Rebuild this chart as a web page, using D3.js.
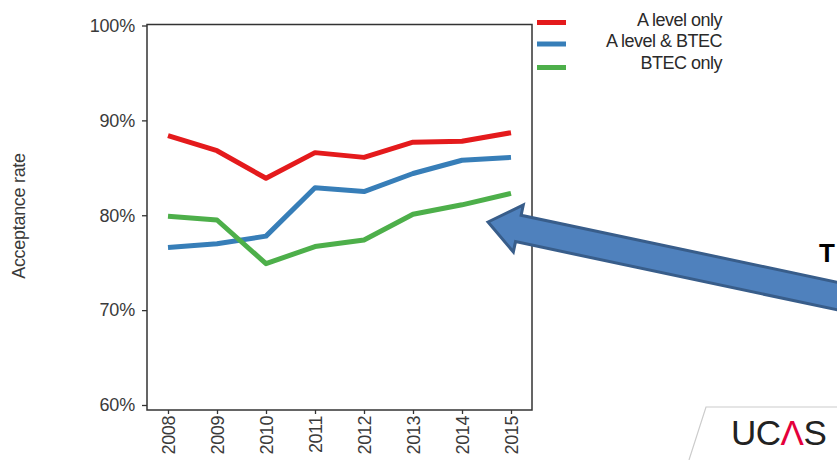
<!DOCTYPE html>
<html><head><meta charset="utf-8">
<script src="https://cdn.jsdelivr.net/npm/d3@7"></script>
<style>body{margin:0;background:#fff}svg{display:block;font-family:"Liberation Sans",Arial,sans-serif}</style>
</head><body><svg id="c" width="837" height="460"></svg>
<script>
const years = [2008, 2009, 2010, 2011, 2012, 2013, 2014, 2015];
const aLevelOnly = [88.4, 86.8, 83.9, 86.6, 86.1, 87.7, 87.8, 88.7];
const aLevelBtec = [76.6, 77.0, 77.8, 82.9, 82.5, 84.4, 85.8, 86.1];
const btecOnly   = [79.9, 79.5, 74.9, 76.7, 77.4, 80.1, 81.1, 82.3];
const seriesNames = ["A level only", "A level & BTEC", "BTEC only"];
const seriesColors = ["#e41a1c", "#377eb8", "#4daf4a"];
const yTicks = [60, 70, 80, 90, 100];

(function () {
const svg = d3.select("#c");
const x = d3.scaleLinear().domain([2008, 2015]).range([168, 511]);
const y = d3.scaleLinear().domain([60, 100]).range([405, 25.5]);
const pl = 147, pr = 532, pt = 24.5, pb = 410;
const ff = "Liberation Sans, Arial, sans-serif";

// frame
svg.append("rect").attr("x", pl).attr("y", pt).attr("width", pr-pl).attr("height", pb-pt)
  .attr("fill", "none").attr("stroke", "#333").attr("stroke-width", 1.5);

// y axis
const ya = svg.append("g").attr("transform", `translate(${pl},0)`)
  .call(d3.axisLeft(y).tickValues(yTicks).tickSize(5).tickFormat(d => d + "%"));
ya.select(".domain").remove();
ya.selectAll("line").attr("stroke", "#333").attr("stroke-width", 1.3);
ya.selectAll("text").attr("font-size", 18).attr("fill", "#3a3a3a").attr("x", -12)
  .attr("font-family", ff).style("letter-spacing", "-0.2px");

// x axis
const xa = svg.append("g").attr("transform", `translate(0,${pb})`)
  .call(d3.axisBottom(x).tickValues(years).tickSize(4).tickFormat(d3.format("d")));
xa.select(".domain").remove();
xa.selectAll("line").attr("stroke", "#333").attr("stroke-width", 1.3);
xa.selectAll("text").attr("font-size", 18).attr("fill", "#3a3a3a")
  .attr("font-family", ff).style("letter-spacing", "-0.4px")
  .attr("transform", "rotate(-90)").attr("text-anchor", "end")
  .attr("x", -6).attr("y", 0).attr("dy", "0.35em");

// y label
svg.append("text").attr("transform", "translate(25,216) rotate(-90)")
  .attr("text-anchor", "middle").attr("font-size", 18).attr("fill", "#3a3a3a")
  .style("letter-spacing", "-0.3px").text("Acceptance rate");

// lines
const data = [aLevelOnly, aLevelBtec, btecOnly];
const line = d3.line().x((d, i) => x(years[i])).y(d => y(d));
data.forEach((s, k) => {
  svg.append("path").datum(s).attr("d", line).attr("fill", "none")
    .attr("stroke", seriesColors[k]).attr("stroke-width", 5).attr("stroke-linejoin", "round");
});

// legend
const legY = [22.5, 44, 67.5];
const legTextY = [26, 47, 68.5];
seriesNames.forEach((n, k) => {
  svg.append("line").attr("x1", 537).attr("x2", 566).attr("y1", legY[k]).attr("y2", legY[k])
    .attr("stroke", seriesColors[k]).attr("stroke-width", 5);
  svg.append("text").attr("x", 722).attr("y", legTextY[k]).attr("text-anchor", "end")
    .attr("font-size", 18).attr("fill", "#2a2a2a").style("letter-spacing", "-0.5px").text(n);
});

// big arrow
const tip = [488, 222];
const ang = Math.atan2(296 - 222, 837 - 488) * 180 / Math.PI;
const L = 420, hl = 31, hw = 24, sw = 13.5;
svg.append("path")
  .attr("d", `M0,0 L${hl},${-hw} L${hl},${-sw} L${L},${-sw} L${L},${sw} L${hl},${sw} L${hl},${hw} Z`)
  .attr("transform", `translate(${tip[0]},${tip[1]}) rotate(${ang})`)
  .attr("fill", "#4f81bd").attr("stroke", "#385d8a").attr("stroke-width", 3).attr("stroke-linejoin", "miter");

// cut-off text
svg.append("text").attr("x", 819).attr("y", 262).attr("font-size", 26).attr("font-weight", "bold")
  .attr("fill", "#000").text("T");

// UCAS logo
svg.append("path").attr("d", "M837,407 L706,407 L689,460").attr("fill", "none")
  .attr("stroke", "#ccc").attr("stroke-width", 1.2);
const lg = svg.append("text").attr("x", 731).attr("y", 445).attr("font-size", 35)
  .attr("fill", "#222").style("letter-spacing", "-0.5px");
lg.append("tspan").text("UC");
lg.append("tspan").attr("fill", "#e4003b").text("Λ");
lg.append("tspan").text("S");
})();
</script></body></html>
